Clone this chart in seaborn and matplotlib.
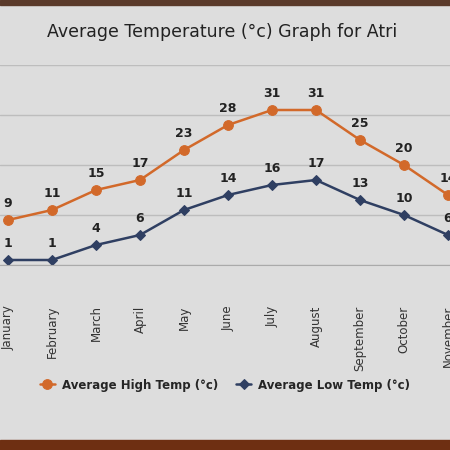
import numpy as np
import pandas as pd
import seaborn as sns
import matplotlib.pyplot as plt
from matplotlib.patches import Rectangle

months = ["January", "February", "March", "April", "May", "June",
          "July", "August", "September", "October", "November"]
high_temp = [9, 11, 15, 17, 23, 28, 31, 31, 25, 20, 14]
low_temp = [1, 1, 4, 6, 11, 14, 16, 17, 13, 10, 6]

high_color = "#d2692a"
low_color = "#2f3f62"

df = pd.DataFrame({"month": months, "x": np.arange(len(months)),
                   "Average High Temp (°c)": high_temp,
                   "Average Low Temp (°c)": low_temp})

sns.set_style("white")
fig = plt.figure(figsize=(4.5, 4.5), dpi=100)
fig.patch.set_facecolor("#dddddd")

# wooden frame edges from the photo
fig.patches.append(Rectangle((0, 0), 1, 0.022, transform=fig.transFigure,
                             color="#6e2f12", zorder=0))
fig.patches.append(Rectangle((0, 0.989), 1, 0.011, transform=fig.transFigure,
                             color="#5a3a2a", zorder=0))

ax = fig.add_axes([0, (450 - 265) / 450, 1, 200 / 450])
ax.set_facecolor("#dddddd")

sns.lineplot(data=df, x="x", y="Average High Temp (°c)", ax=ax, color=high_color,
             marker="o", markersize=7, markeredgecolor=high_color, linewidth=1.8,
             label="Average High Temp (°c)")
sns.lineplot(data=df, x="x", y="Average Low Temp (°c)", ax=ax, color=low_color,
             marker="D", markersize=5, markeredgecolor=low_color, linewidth=1.8,
             label="Average Low Temp (°c)")

for xi, v in zip(df["x"], high_temp):
    ax.annotate(str(v), (xi, v), xytext=(0, 7), textcoords="offset points",
                ha="center", va="bottom", fontsize=9, fontweight="bold", color="#222222")
for xi, v in zip(df["x"], low_temp):
    ax.annotate(str(v), (xi, v), xytext=(0, 7), textcoords="offset points",
                ha="center", va="bottom", fontsize=9, fontweight="bold", color="#222222")

ax.set_yticks([0, 10, 20, 30, 40])
ax.set_yticklabels([])
ax.tick_params(axis="y", length=0)
ax.grid(axis="y", color="#bdbdbd", linewidth=1)
ax.set_axisbelow(True)

ax.set_xticks(df["x"])
ax.set_xticklabels(months, rotation=90, fontsize=8.5, color="#333333")
ax.set_xticks(np.arange(len(months)) + 0.5, minor=True)
ax.tick_params(axis="x", which="major", length=0, pad=29)
ax.tick_params(axis="x", which="minor", length=8, width=1, color="#aaaaaa", direction="out")
ax.set_xlabel("")
ax.set_ylabel("")
ax.set_xlim(-8 / 44, 10 + 2 / 44)
ax.set_ylim(0, 40)
for s in ["top", "left", "right"]:
    ax.spines[s].set_visible(False)
ax.spines["bottom"].set_color("#aaaaaa")

ax.legend(loc="center", bbox_to_anchor=(0.5, (265 - 385) / 200), ncol=2, frameon=False,
          handlelength=1.3, columnspacing=1.5, handletextpad=0.6,
          prop={"weight": "bold", "size": 8.5})

fig.text(0.494, 1 - 32 / 450, "Average Temperature (°c) Graph for Atri",
         ha="center", va="center", fontsize=12.5, color="#222222")

plt.savefig("out.png", dpi=100, facecolor=fig.get_facecolor())
